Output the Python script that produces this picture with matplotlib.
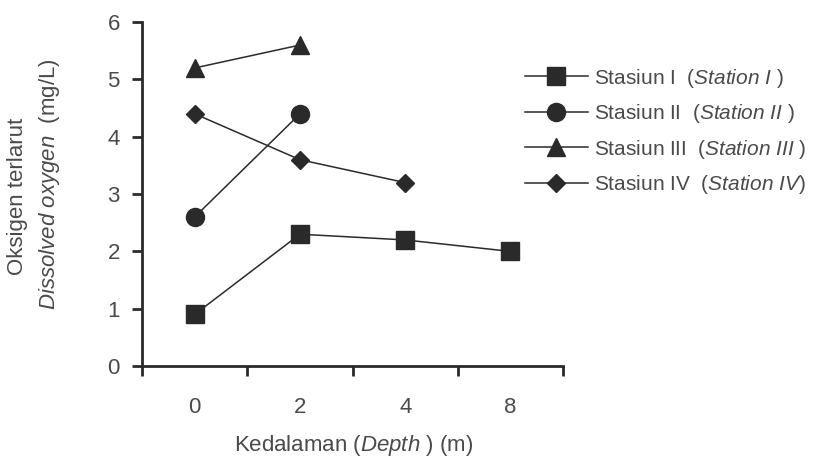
import matplotlib.pyplot as plt
import numpy as np

depths = ['0', '2', '4', '8']
st1 = [0.9, 2.3, 2.2, 2.0]
st2 = [2.6, 4.4]
st3 = [5.2, 5.6]
st4 = [4.4, 3.6, 3.2]
labels = ['Stasiun I  $(\\mathit{Station\\ I}\\ )$',
          'Stasiun II  $(\\mathit{Station\\ II}\\ )$',
          'Stasiun III  $(\\mathit{Station\\ III}\\ )$',
          'Stasiun IV  $(\\mathit{Station\\ IV})$']

plt.rcParams.update({
    'font.family': 'Liberation Sans',
    'mathtext.fontset': 'custom',
    'mathtext.rm': 'Liberation Sans',
    'mathtext.it': 'Liberation Sans:italic',
    'font.size': 16,
})
txt = '#4a4a4a'
ink = '#2a2a2a'

fig = plt.figure(figsize=(8.33, 4.61), dpi=100)
ax = fig.add_axes([0.1705, 0.206, 0.5055, 0.746])

series = [st1, st2, st3, st4]
markers = ['s', 'o', '^', 'D']
msizes = [12.5, 13, 12.5, 9]
for vals, m, ms, lab in zip(series, markers, msizes, labels):
    ax.plot(np.arange(len(vals)), vals, color=ink, lw=1.1, marker=m, ms=ms,
            markerfacecolor=ink, markeredgecolor=ink, label=lab)

ax.set_xlim(-0.5, 3.5)
ax.set_ylim(0, 6)
ax.set_xticks(range(len(depths)))
ax.set_xticklabels(depths)
ax.set_xticks(np.arange(-0.5, 3.6, 1), minor=True)
ax.tick_params(axis='x', which='major', length=0, pad=22, labelcolor=txt)
ax.tick_params(axis='x', which='minor', length=7, width=2, color=ink, direction='out')
ax.set_yticks(range(7))
ax.tick_params(axis='y', length=7, width=2, color=ink, pad=9, labelcolor=txt)
for s in ['top', 'right']:
    ax.spines[s].set_visible(False)
for s in ['left', 'bottom']:
    ax.spines[s].set_linewidth(2)
    ax.spines[s].set_color(ink)

fig.text(0.424, 0.033, 'Kedalaman ($\\mathit{Depth}$ ) (m)', ha='center', va='center', color=txt)
fig.text(0.021, 0.575, 'Oksigen terlarut', rotation=90, ha='center', va='center', color=txt)
fig.text(0.06, 0.6, '$\\mathit{Dissolved\\ oxygen}$  (mg/L)', rotation=90, ha='center', va='center', color=txt)

fig.legend(loc='upper left', bbox_to_anchor=(0.618, 0.878), frameon=False, borderpad=0,
           handlelength=3.0, labelspacing=0.6, handletextpad=0.3, labelcolor=txt,
           fontsize=15)

fig.savefig('out.png', dpi=100)
